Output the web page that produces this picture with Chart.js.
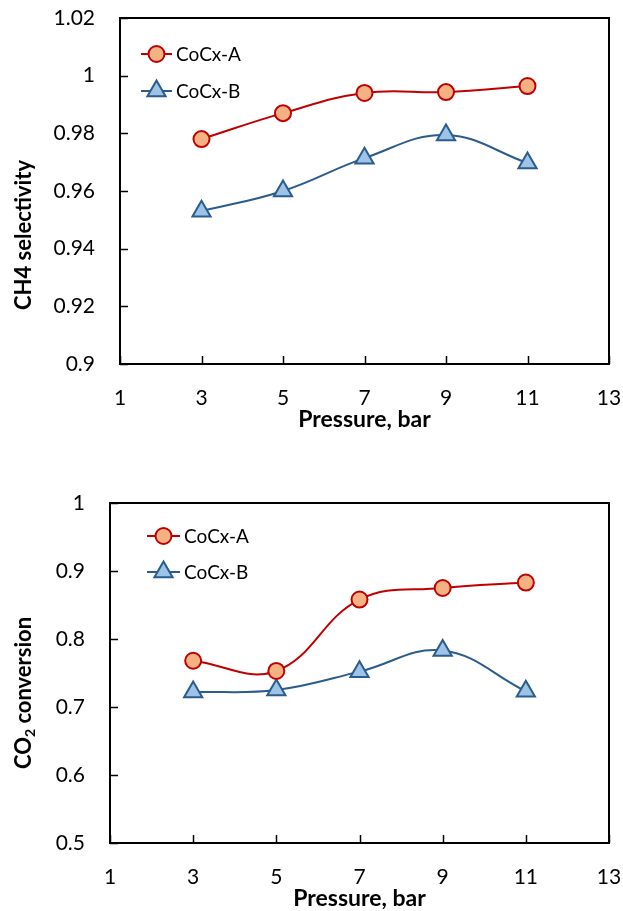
<!DOCTYPE html>
<html>
<head>
<meta charset="utf-8">
<script src="https://cdn.jsdelivr.net/npm/chart.js@4.4.1/dist/chart.umd.min.js"></script>
<style>
  html, body { margin: 0; padding: 0; background: #fff; }
  #wrap { position: relative; width: 623px; height: 911px; }
  .box { position: absolute; left: 0; width: 623px; }
</style>
</head>
<body>
<div id="wrap">
  <div class="box" style="top:0;height:455px"><canvas id="c1" width="623" height="455"></canvas></div>
  <div class="box" style="top:455px;height:456px"><canvas id="c2" width="623" height="456"></canvas></div>
</div>
<script>
// ---- data ----
const pressure = [3, 5, 7, 9, 11];
const seriesNames = ['CoCx-A', 'CoCx-B'];
const ch4A = [0.978, 0.987, 0.994, 0.9943, 0.9964];
const ch4B = [0.953, 0.960, 0.9714, 0.9794, 0.9697];
const co2A = [0.768, 0.753, 0.858, 0.875, 0.883];
const co2B = [0.722, 0.725, 0.752, 0.783, 0.723];
const xRange = [1, 13, 2];          // min, max, step
const ch4Range = [0.9, 1.02, 0.02];
const co2Range = [0.5, 1.0, 0.1];
const xTitle = 'Pressure, bar';
const ch4Title = ['CH4 selectivity'];
const co2Title = ['CO', '2', ' conversion'];

// ---- styles ----
const FONT = 'Lato, "Open Sans", sans-serif';
const styleA = { line: '#C00000', fill: '#F4B183', point: 'circle', r: 8 };
const styleB = { line: '#2A5C8C', fill: '#9DC3E6', point: 'triangle', r: 10.5 };

function pts(xs, ys) { return xs.map((x, i) => ({ x: x, y: ys[i] })); }

function ds(label, data, st) {
  return {
    label: label, data: data,
    borderColor: st.line, backgroundColor: st.fill,
    borderWidth: 2, tension: 0.4,
    pointStyle: st.point, pointRadius: st.r, pointHoverRadius: st.r,
    pointBorderWidth: 2, pointBorderColor: st.line, pointBackgroundColor: st.fill
  };
}

const decor = {
  id: 'decor',
  afterDraw(chart, args, o) {
    const ctx = chart.ctx, a = chart.chartArea;
    const xs = chart.scales.x, ys = chart.scales.y;
    ctx.save();
    // frame
    ctx.strokeStyle = '#000'; ctx.lineWidth = 2;
    ctx.strokeRect(a.left, a.top, a.right - a.left, a.bottom - a.top);
    // inward ticks
    ctx.lineWidth = 1.5;
    ys.ticks.forEach(t => {
      const y = Math.round(ys.getPixelForValue(t.value)) + 0.5;
      ctx.beginPath(); ctx.moveTo(a.left, y); ctx.lineTo(a.left + 8, y); ctx.stroke();
    });
    xs.ticks.forEach(t => {
      const x = Math.round(xs.getPixelForValue(t.value)) + 0.5;
      ctx.beginPath(); ctx.moveTo(x, a.bottom); ctx.lineTo(x, a.bottom - 8); ctx.stroke();
    });
    // legend
    ctx.font = '19px ' + FONT; ctx.textBaseline = 'middle'; ctx.textAlign = 'left';
    chart.data.datasets.forEach((d, i) => {
      const y = o.legY + i * o.legGap;
      ctx.strokeStyle = d.borderColor; ctx.lineWidth = 2;
      ctx.beginPath(); ctx.moveTo(o.legX, y); ctx.lineTo(o.legX + o.legLen, y); ctx.stroke();
      ctx.fillStyle = d.pointBackgroundColor; ctx.strokeStyle = d.pointBorderColor; ctx.lineWidth = 2;
      Chart.helpers.drawPoint(ctx, { pointStyle: d.pointStyle, radius: d.pointRadius, borderWidth: 2, rotation: 0 },
        o.legX + o.legLen / 2, y);
      ctx.fillStyle = '#000';
      ctx.fillText(d.label, o.legX + o.legLen + 4, y + 1);
    });
    // x title
    ctx.fillStyle = '#000';
    ctx.font = 'bold 23px ' + FONT; ctx.textAlign = 'center'; ctx.textBaseline = 'middle';
    ctx.fillText(xTitle, (a.left + a.right) / 2, o.xTitleY);
    // y title (rotated, with optional subscript)
    ctx.translate(o.yTitleX, o.yTitleY);
    ctx.rotate(-Math.PI / 2);
    const parts = o.yTitle;
    const big = 'bold 22px ' + FONT, small = 'bold 14px ' + FONT;
    let widths = parts.map((p, i) => { ctx.font = (parts.length === 3 && i === 1) ? small : big; return ctx.measureText(p).width; });
    let total = widths.reduce((s, w) => s + w, 0);
    let x = -total / 2;
    ctx.textAlign = 'left';
    parts.forEach((p, i) => {
      const sub = parts.length === 3 && i === 1;
      ctx.font = sub ? small : big;
      ctx.fillText(p, x, sub ? 6 : 0);
      x += widths[i];
    });
    ctx.restore();
  }
};

function makeChart(id, dA, dB, yr, ySpec) {
  const fmt = v => String(Number(v.toFixed(2)));
  return new Chart(document.getElementById(id), {
    type: 'line',
    data: { datasets: [ds(seriesNames[0], pts(pressure, dA), styleA), ds(seriesNames[1], pts(pressure, dB), styleB)] },
    options: {
      responsive: false, animation: false,
      layout: { padding: { left: 0, right: 14, top: ySpec.top, bottom: 0 } },
      plugins: { legend: { display: false }, tooltip: { enabled: false }, decor: ySpec.decor },
      scales: {
        x: {
          type: 'linear', min: xRange[0], max: xRange[1],
          ticks: { stepSize: xRange[2], color: '#000', font: { family: FONT, size: 21 }, padding: 22, maxRotation: 0 },
          grid: { display: false, drawTicks: false },
          border: { display: true, color: '#000', width: 2 },
          afterFit: s => { s.height = ySpec.xh; s.paddingLeft = 0; s.paddingRight = 0; }
        },
        y: {
          type: 'linear', min: yr[0], max: yr[1],
          ticks: { stepSize: yr[2], color: '#000', font: { family: FONT, size: 21 }, padding: 25, callback: fmt },
          grid: { display: false, drawTicks: false },
          border: { display: true, color: '#000', width: 2 },
          afterFit: s => { s.width = ySpec.yw; s.paddingTop = 0; s.paddingBottom = 0; }
        }
      }
    },
    plugins: [decor]
  });
}

makeChart('c1', ch4A, ch4B, ch4Range, {
  top: 18, xh: 91, yw: 120,
  decor: { legX: 141, legY: 54, legGap: 37, legLen: 31, xTitleY: 420, yTitleX: 24, yTitleY: 235, yTitle: ch4Title }
});
makeChart('c2', co2A, co2B, co2Range, {
  top: 48, xh: 68, yw: 110,
  decor: { legX: 147, legY: 81, legGap: 36, legLen: 33, xTitleY: 444, yTitleX: 24, yTitleY: 238, yTitle: co2Title }
});
</script>
</body>
</html>
